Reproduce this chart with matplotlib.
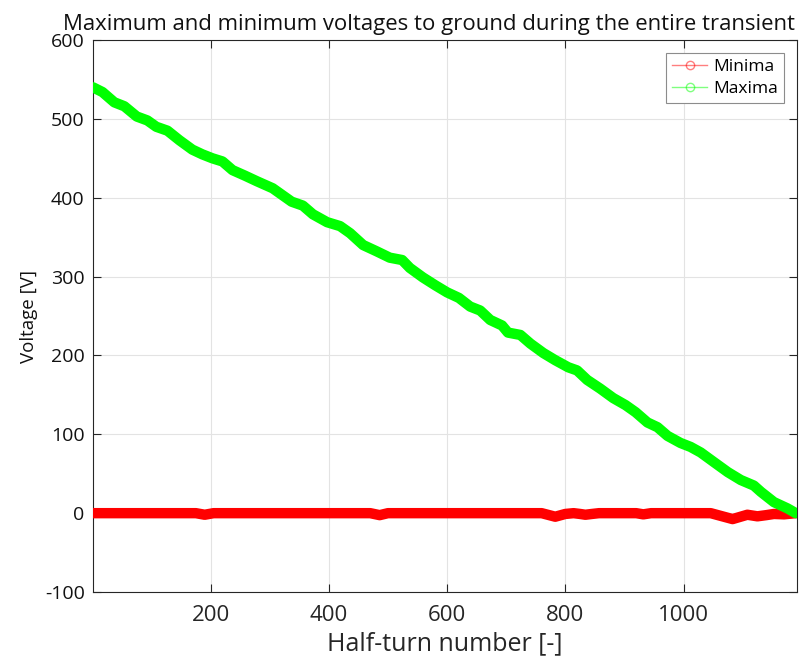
import matplotlib
matplotlib.use("Agg")
import matplotlib.pyplot as plt
from matplotlib.lines import Line2D

plt.rcParams['font.family'] = ['Open Sans', 'DejaVu Sans']
plt.rcParams['axes.unicode_minus'] = False

# Upper envelope: maximum voltage to ground per half-turn
max_turn = [1, 17, 37, 54, 75, 93, 108, 127, 147, 169, 186, 203, 220, 237, 258,
            278, 305, 337, 356, 373, 397, 419, 436, 458, 481, 503, 524, 537, 559,
            580, 600, 620, 639, 656, 673, 693, 703, 724, 741, 763, 783, 805, 820,
            837, 859, 881, 902, 919, 939, 956, 973, 995, 1012, 1029, 1051, 1075,
            1097, 1119, 1131, 1153, 1176, 1190]
max_volt = [540, 534, 521, 516, 503, 498, 490, 485, 473, 461, 455, 450, 446, 435,
            428, 421, 412, 395, 390, 379, 369, 364, 355, 340, 332, 324, 321, 311,
            299, 289, 280, 273, 262, 257, 245, 238, 229, 226, 215, 203, 194, 185,
            181, 169, 158, 146, 137, 128, 115, 109, 98, 89, 84, 77, 65, 52, 42,
            35, 27, 14, 6, 0]

# Lower envelope: minimum voltage to ground per half-turn
min_turn = [1, 175, 190, 205, 470, 486, 500, 760, 783, 800, 814, 825, 834, 845,
            857, 920, 932, 945, 1046, 1083, 1108, 1125, 1140, 1153, 1170, 1190]
min_volt = [0, 0, -2, 0, 0, -2.5, 0, 0, -4.5, -1, 0, -1, -2, -1,
            0, 0, -1.5, 0, 0, -7.5, -2, -4, -2.5, -1, -1.5, 0]

fig = plt.figure(figsize=(8.04, 6.67), dpi=100)
ax = fig.add_axes([0.1157, 0.1124, 0.8756, 0.8276])

ax.plot(min_turn, min_volt, color='#ff0000', lw=7.5, solid_joinstyle='round',
        solid_capstyle='round', zorder=3)
ax.plot(max_turn, max_volt, color='#00ff00', lw=7.5, solid_joinstyle='round',
        solid_capstyle='round', zorder=4)

ax.set_xlim(1, 1192)
ax.set_ylim(-100, 600)
ax.set_xticks([200, 400, 600, 800, 1000])
ax.set_yticks(range(-100, 601, 100))

ax.grid(True, color='#e3e3e3', lw=0.8)
ax.set_axisbelow(True)
for s in ax.spines.values():
    s.set_color('#262626')
    s.set_linewidth(0.8)
ax.tick_params(direction='in', length=6, width=0.8, color='#262626',
               labelcolor='#262626', top=True, right=True)
ax.tick_params(axis='x', labelsize=16, pad=9)
ax.tick_params(axis='y', labelsize=14, pad=6, labelcolor='#111111')

# title is wider than the axes, so place it on the figure to keep it in frame
fig.text(0.533, 0.955, 'Maximum and minimum voltages to ground during the entire transient',
         fontsize=15.9, ha='center', va='baseline', color='#111111')
ax.set_xlabel('Half-turn number [-]', fontsize=18, color='#262626', labelpad=4)
ax.set_ylabel('Voltage [V]', fontsize=13.5, color='#111111', labelpad=5)

handles = [
    Line2D([], [], color='#ff0000', alpha=0.5, lw=1, marker='o', ms=6, mfc='none'),
    Line2D([], [], color='#00ff00', alpha=0.5, lw=1, marker='o', ms=6, mfc='none'),
]
leg = ax.legend(handles, ['Minima', 'Maxima'], loc='upper right', fontsize=12.5,
                fancybox=False, edgecolor='#8c8c8c', framealpha=1,
                borderaxespad=0.75, handlelength=2.0, labelspacing=0.3,
                borderpad=0.35, handletextpad=0.35)
leg.get_frame().set_linewidth(0.8)

fig.savefig('out.png', dpi=100)
